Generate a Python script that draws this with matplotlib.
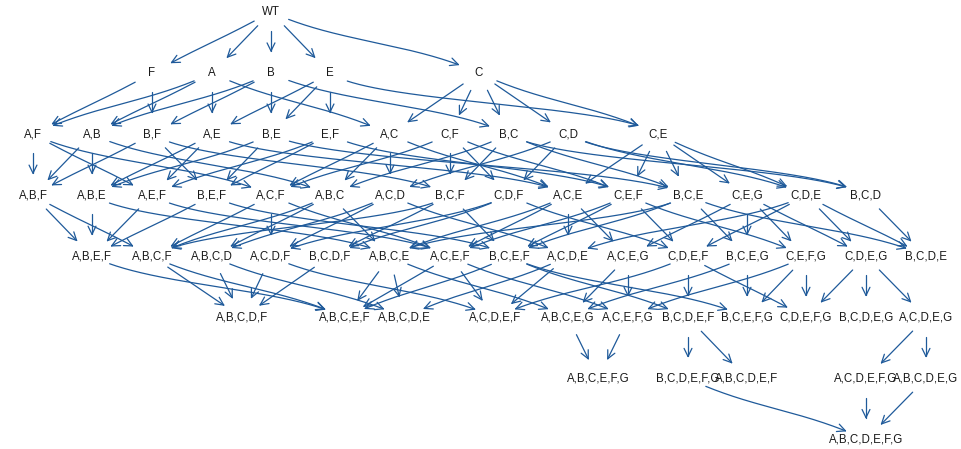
import numpy as np
import matplotlib
matplotlib.use("Agg")
import matplotlib.pyplot as plt

# ---------------- data ----------------
level0 = ["WT"]
level1 = ["F", "A", "B", "E", "C"]
level2 = ["A,F", "A,B", "B,F", "A,E", "B,E", "E,F", "A,C", "C,F", "B,C", "C,D", "C,E"]
level3 = ["A,B,F", "A,B,E", "A,E,F", "B,E,F", "A,C,F", "A,B,C", "A,C,D", "B,C,F",
          "C,D,F", "A,C,E", "C,E,F", "B,C,E", "C,E,G", "C,D,E", "B,C,D"]
level4 = ["A,B,E,F", "A,B,C,F", "A,B,C,D", "A,C,D,F", "B,C,D,F", "A,B,C,E", "A,C,E,F",
          "B,C,E,F", "A,C,D,E", "A,C,E,G", "C,D,E,F", "B,C,E,G", "C,E,F,G", "C,D,E,G", "B,C,D,E"]
level5 = ["A,B,C,D,F", "A,B,C,E,F", "A,B,C,D,E", "A,C,D,E,F", "A,B,C,E,G", "A,C,E,F,G",
          "B,C,D,E,F", "B,C,E,F,G", "C,D,E,F,G", "B,C,D,E,G", "A,C,D,E,G"]
level6 = ["A,B,C,E,F,G", "B,C,D,E,F,G", "A,B,C,D,E,F", "A,C,D,E,F,G", "A,B,C,D,E,G"]
level7 = ["A,B,C,D,E,F,G"]
levels = [level0, level1, level2, level3, level4, level5, level6, level7]

edges_0_1 = [("WT", "F"), ("WT", "A"), ("WT", "B"), ("WT", "E"), ("WT", "C")]
edges_1_2 = [("F", "A,F"), ("F", "B,F"),
             ("A", "A,F"), ("A", "A,B"), ("A", "A,E"), ("A", "A,C"),
             ("B", "A,B"), ("B", "B,F"), ("B", "B,E"), ("B", "B,C"),
             ("E", "A,E"), ("E", "B,E"), ("E", "E,F"), ("E", "C,E"),
             ("C", "A,C"), ("C", "C,F"), ("C", "B,C"), ("C", "C,D"), ("C", "C,E")]
edges_2_3 = [("A,F", "A,B,F"), ("A,B", "A,B,F"), ("B,F", "A,B,F"),
             ("A,B", "A,B,E"), ("A,E", "A,B,E"), ("B,E", "A,B,E"),
             ("A,E", "A,E,F"), ("A,F", "A,E,F"), ("E,F", "A,E,F"),
             ("B,E", "B,E,F"), ("B,F", "B,E,F"), ("E,F", "B,E,F"),
             ("A,C", "A,C,F"), ("A,F", "A,C,F"), ("C,F", "A,C,F"),
             ("A,B", "A,B,C"), ("A,C", "A,B,C"), ("B,C", "A,B,C"),
             ("A,C", "A,C,D"), ("C,D", "A,C,D"),
             ("B,C", "B,C,F"), ("B,F", "B,C,F"), ("C,F", "B,C,F"),
             ("C,D", "C,D,F"), ("C,F", "C,D,F"),
             ("A,C", "A,C,E"), ("A,E", "A,C,E"), ("C,E", "A,C,E"),
             ("C,E", "C,E,F"), ("C,F", "C,E,F"), ("E,F", "C,E,F"),
             ("B,C", "B,C,E"), ("B,E", "B,C,E"), ("C,E", "B,C,E"),
             ("C,E", "C,E,G"),
             ("C,D", "C,D,E"), ("C,E", "C,D,E"),
             ("B,C", "B,C,D"), ("C,D", "B,C,D")]
edges_3_4 = [("A,B,F", "A,B,E,F"), ("A,B,E", "A,B,E,F"), ("A,E,F", "A,B,E,F"), ("B,E,F", "A,B,E,F"),
             ("A,B,F", "A,B,C,F"), ("A,C,F", "A,B,C,F"), ("A,B,C", "A,B,C,F"), ("B,C,F", "A,B,C,F"),
             ("A,B,C", "A,B,C,D"), ("A,C,D", "A,B,C,D"),
             ("A,C,F", "A,C,D,F"), ("A,C,D", "A,C,D,F"), ("C,D,F", "A,C,D,F"),
             ("B,C,F", "B,C,D,F"), ("C,D,F", "B,C,D,F"),
             ("A,B,E", "A,B,C,E"), ("A,B,C", "A,B,C,E"), ("A,C,E", "A,B,C,E"), ("B,C,E", "A,B,C,E"),
             ("A,E,F", "A,C,E,F"), ("A,C,F", "A,C,E,F"), ("A,C,E", "A,C,E,F"), ("C,E,F", "A,C,E,F"),
             ("B,E,F", "B,C,E,F"), ("B,C,F", "B,C,E,F"), ("C,E,F", "B,C,E,F"), ("B,C,E", "B,C,E,F"),
             ("A,C,D", "A,C,D,E"), ("A,C,E", "A,C,D,E"), ("C,D,E", "A,C,D,E"),
             ("A,C,E", "A,C,E,G"), ("C,E,G", "A,C,E,G"),
             ("C,D,F", "C,D,E,F"), ("C,E,F", "C,D,E,F"), ("C,D,E", "C,D,E,F"),
             ("B,C,E", "B,C,E,G"), ("C,E,G", "B,C,E,G"),
             ("C,E,F", "C,E,F,G"), ("C,E,G", "C,E,F,G"),
             ("C,E,G", "C,D,E,G"), ("C,D,E", "C,D,E,G"),
             ("B,C,E", "B,C,D,E"), ("C,D,E", "B,C,D,E"), ("B,C,D", "B,C,D,E")]
edges_4_5 = [("A,B,C,F", "A,B,C,D,F"), ("A,B,C,D", "A,B,C,D,F"), ("A,C,D,F", "A,B,C,D,F"), ("B,C,D,F", "A,B,C,D,F"),
             ("A,B,E,F", "A,B,C,E,F"), ("A,B,C,F", "A,B,C,E,F"), ("A,B,C,E", "A,B,C,E,F"),
             ("A,C,E,F", "A,B,C,E,F"), ("B,C,E,F", "A,B,C,E,F"),
             ("A,B,C,D", "A,B,C,D,E"), ("A,B,C,E", "A,B,C,D,E"), ("A,C,D,E", "A,B,C,D,E"),
             ("A,C,D,F", "A,C,D,E,F"), ("A,C,E,F", "A,C,D,E,F"), ("A,C,D,E", "A,C,D,E,F"), ("C,D,E,F", "A,C,D,E,F"),
             ("A,B,C,E", "A,B,C,E,G"), ("A,C,E,G", "A,B,C,E,G"), ("B,C,E,G", "A,B,C,E,G"),
             ("A,C,E,F", "A,C,E,F,G"), ("A,C,E,G", "A,C,E,F,G"), ("C,E,F,G", "A,C,E,F,G"),
             ("C,D,E,F", "B,C,D,E,F"), ("B,C,E,F", "B,C,D,E,F"),
             ("B,C,E,F", "B,C,E,F,G"), ("B,C,E,G", "B,C,E,F,G"), ("C,E,F,G", "B,C,E,F,G"),
             ("C,D,E,F", "C,D,E,F,G"), ("C,E,F,G", "C,D,E,F,G"), ("C,D,E,G", "C,D,E,F,G"),
             ("C,D,E,G", "B,C,D,E,G"),
             ("C,D,E,G", "A,C,D,E,G")]
edges_5_6 = [("A,B,C,E,G", "A,B,C,E,F,G"), ("A,C,E,F,G", "A,B,C,E,F,G"),
             ("B,C,D,E,F", "B,C,D,E,F,G"), ("B,C,D,E,F", "A,B,C,D,E,F"),
             ("A,C,D,E,G", "A,C,D,E,F,G"), ("A,C,D,E,G", "A,B,C,D,E,G")]
edges_6_7 = [("A,C,D,E,F,G", "A,B,C,D,E,F,G"), ("A,B,C,D,E,G", "A,B,C,D,E,F,G"),
             ("B,C,D,E,F,G", "A,B,C,D,E,F,G")]
edges = edges_0_1 + edges_1_2 + edges_2_3 + edges_3_4 + edges_4_5 + edges_5_6 + edges_6_7

# ---------------- layout (slot positions per level) ----------------
slots = [
    [4],
    [2, 3, 4, 5, 7.5],
    [0, 1, 2, 3, 4, 5, 6, 7, 8, 9, 10.5],
    list(range(15)),
    list(range(1, 16)),
    [3.51, 5.24, 6.24, 7.77, 9, 10, 11, 12, 13, 14, 15],
    [9.5, 11, 12, 14, 15],
    [14],
]
X0, DX = 33.0, 59.5
Y0, DY = 12.0, 61.1

pos = {}
for li, (names, sl) in enumerate(zip(levels, slots)):
    for n, s in zip(names, sl):
        pos[n] = (float(np.round(X0 + s * DX)), Y0 + li * DY)

EDGE_COLOR = "#1f5a9a"
TEXT_COLOR = "#1a1a1a"
R_START, R_END = 19.0, 22.0
HEAD_LEN, HEAD_ANG = 9.0, np.deg2rad(26)

fig = plt.figure(figsize=(9.62, 4.49), dpi=100)
ax = fig.add_axes([0, 0, 1, 1])
ax.set_xlim(0, 962)
ax.set_ylim(449, 0)
ax.axis("off")

t = np.linspace(0, 1, 400)
for a, b in edges:
    x0, y0 = pos[a]
    x1, y1 = pos[b]
    dx, dy = x1 - x0, y1 - y0
    c = np.interp(abs(dx), [100, 320], [0.5, 0.13])
    p0 = np.array([x0, y0])
    p1 = np.array([x0 + c * dx, y0 + 0.5 * dy])
    p2 = np.array([x1 - c * dx, y0 + 0.5 * dy])
    p3 = np.array([x1, y1])
    pts = ((1 - t) ** 3)[:, None] * p0 + (3 * (1 - t) ** 2 * t)[:, None] * p1 \
        + (3 * (1 - t) * t ** 2)[:, None] * p2 + (t ** 3)[:, None] * p3
    d0 = np.hypot(pts[:, 0] - x0, pts[:, 1] - y0)
    d1 = np.hypot(pts[:, 0] - x1, pts[:, 1] - y1)
    keep = (d0 >= R_START) & (d1 >= R_END)
    seg = pts[keep]
    ax.plot(seg[:, 0], seg[:, 1], color=EDGE_COLOR, lw=0.9, solid_capstyle="round", zorder=1)
    tip = seg[-1]
    back = seg[max(0, len(seg) - 8)]
    u = tip - back
    u = u / np.hypot(*u)
    for sgn in (1, -1):
        ca, sa = np.cos(sgn * HEAD_ANG), np.sin(sgn * HEAD_ANG)
        w = np.array([u[0] * ca - u[1] * sa, u[0] * sa + u[1] * ca])
        wing = tip - HEAD_LEN * w
        ax.plot([wing[0], tip[0]], [wing[1], tip[1]], color=EDGE_COLOR, lw=0.9,
                solid_capstyle="round", zorder=1)

for n, (x, y) in pos.items():
    ax.text(x, y, n, ha="center", va="center", fontsize=8.3,
            family=["Liberation Sans", "DejaVu Sans"], color=TEXT_COLOR, zorder=3)

fig.savefig("out.png", dpi=100)
